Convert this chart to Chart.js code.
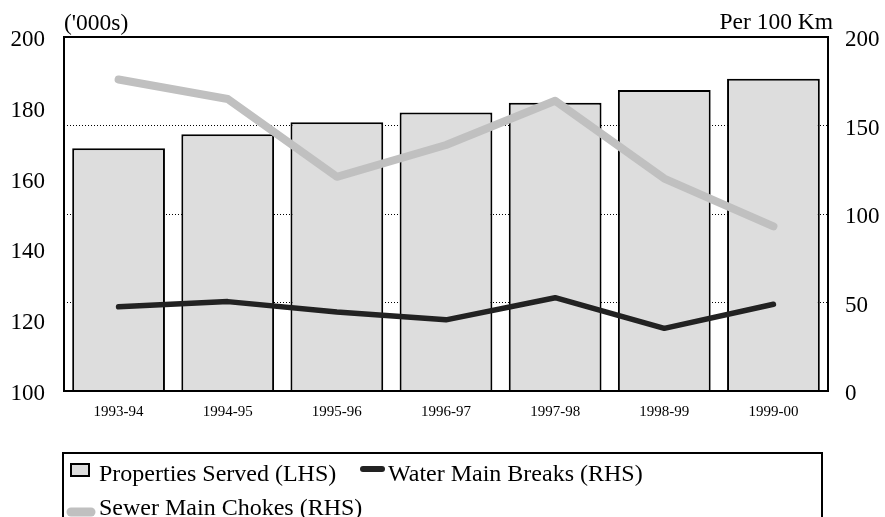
<!DOCTYPE html>
<html>
<head>
<meta charset="utf-8">
<script src="https://cdn.jsdelivr.net/npm/chart.js@4"></script>
<style>
  html, body { margin: 0; padding: 0; background: #ffffff; }
  #wrap { width: 885px; height: 517px; overflow: hidden; }
</style>
</head>
<body>
<div id="wrap"><canvas id="c" width="885" height="517"></canvas></div>
<script>
// ---- data ----
const categories = ['1993-94', '1994-95', '1995-96', '1996-97', '1997-98', '1998-99', '1999-00'];
const propertiesServed = [168.6, 172.5, 175.9, 178.7, 181.4, 185.0, 188.2];   // LHS, '000s
const waterMainBreaks = [47.6, 50.5, 44.6, 40.2, 52.7, 35.4, 49.0];           // RHS, per 100 km
const sewerMainChokes = [176, 165, 121, 139, 164, 120, 93];                    // RHS, per 100 km
const leftTicks = [100, 120, 140, 160, 180, 200];
const rightTicks = [0, 50, 100, 150, 200];
const leftUnit = "('000s)";
const rightUnit = 'Per 100 Km';
const seriesLabels = ['Properties Served (LHS)', 'Water Main Breaks (RHS)', 'Sewer Main Chokes (RHS)'];

const FONT = "'Liberation Serif', 'Times New Roman', serif";

const framePlugin = {
  id: 'frame',
  afterDatasetsDraw(chart) {
    const { ctx, chartArea: a } = chart;
    ctx.save();
    ctx.strokeStyle = '#000';
    ctx.lineWidth = 2;
    ctx.strokeRect(a.left, a.top, a.right - a.left, a.bottom - a.top);
    ctx.restore();
  },
  afterDraw(chart) {
    const { ctx, chartArea: a } = chart;
    const ds = chart.data.datasets;
    ctx.save();
    // unit labels
    ctx.fillStyle = '#000';
    ctx.font = '23.5px ' + FONT;
    ctx.textBaseline = 'alphabetic';
    ctx.textAlign = 'left';
    ctx.fillText(leftUnit, a.left, a.top - 7);
    ctx.textAlign = 'right';
    ctx.fillText(rightUnit, a.right + 5, a.top - 8);

    // legend box
    ctx.lineWidth = 2;
    ctx.strokeStyle = '#000';
    ctx.strokeRect(63, 453, 759, 120);

    ctx.textAlign = 'left';
    ctx.font = '24px ' + FONT;
    // item 1: bar swatch
    ctx.fillStyle = ds[0].backgroundColor;
    ctx.fillRect(70, 463, 20, 14);
    ctx.strokeStyle = ds[0].borderColor;
    ctx.lineWidth = 2;
    ctx.strokeRect(71, 464, 18, 12);
    ctx.fillStyle = '#000';
    ctx.fillText(ds[0].label, 99, 481);

    // item 2: water line
    ctx.lineCap = 'round';
    ctx.strokeStyle = ds[1].borderColor;
    ctx.lineWidth = 6;
    ctx.beginPath(); ctx.moveTo(363, 469); ctx.lineTo(382, 469); ctx.stroke();
    ctx.fillStyle = '#000';
    ctx.fillText(ds[1].label, 388, 481);

    // item 3: sewer line
    ctx.strokeStyle = ds[2].borderColor;
    ctx.lineWidth = 9;
    ctx.beginPath(); ctx.moveTo(71, 512); ctx.lineTo(91, 512); ctx.stroke();
    ctx.fillStyle = '#000';
    ctx.fillText(ds[2].label, 99, 515);
    ctx.restore();
  }
};

new Chart(document.getElementById('c'), {
  data: {
    labels: categories,
    datasets: [
      {
        type: 'bar',
        label: seriesLabels[0],
        data: propertiesServed,
        yAxisID: 'y',
        backgroundColor: '#dddddd',
        borderColor: '#000000',
        borderWidth: 2,
        barPercentage: 0.85,
        categoryPercentage: 1.0,
        order: 3
      },
      {
        type: 'line',
        label: seriesLabels[1],
        data: waterMainBreaks,
        yAxisID: 'y1',
        borderColor: '#222222',
        backgroundColor: '#222222',
        borderWidth: 5.5,
        borderCapStyle: 'round',
        borderJoinStyle: 'round',
        pointRadius: 0,
        tension: 0,
        order: 1
      },
      {
        type: 'line',
        label: seriesLabels[2],
        data: sewerMainChokes,
        yAxisID: 'y1',
        borderColor: '#c0c0c0',
        backgroundColor: '#c0c0c0',
        borderWidth: 8,
        borderCapStyle: 'round',
        borderJoinStyle: 'round',
        pointRadius: 0,
        tension: 0,
        order: 2
      }
    ]
  },
  options: {
    responsive: false,
    animation: false,
    events: [],
    layout: { padding: { top: 37, bottom: 86, left: 0, right: 0 } },
    plugins: {
      legend: { display: false },
      title: { display: false },
      tooltip: { enabled: false }
    },
    scales: {
      x: {
        type: 'category',
        offset: true,
        grid: { display: false, drawTicks: false },
        border: { display: false },
        ticks: { color: '#000', font: { family: FONT, size: 15 }, padding: 12, maxRotation: 0, autoSkip: false },
        afterFit(s) { s.height = 40; }
      },
      y: {
        position: 'left',
        min: 100, max: 200,
        afterBuildTicks(s) { s.ticks = leftTicks.map(v => ({ value: v })); },
        grid: { display: false, drawTicks: false },
        border: { display: false },
        ticks: { color: '#000', font: { family: FONT, size: 23 }, padding: 19, labelOffset: 3 },
        afterFit(s) { s.width = 64; }
      },
      y1: {
        position: 'right',
        min: 0, max: 200,
        afterBuildTicks(s) { s.ticks = rightTicks.map(v => ({ value: v })); },
        grid: { display: true, drawTicks: false, color: '#000', lineWidth: 1 },
        border: { display: false, dash: [1, 2] },
        ticks: { color: '#000', font: { family: FONT, size: 23 }, padding: 17, labelOffset: 3 },
        afterFit(s) { s.width = 57; }
      }
    }
  },
  plugins: [framePlugin]
});
</script>
</body>
</html>
